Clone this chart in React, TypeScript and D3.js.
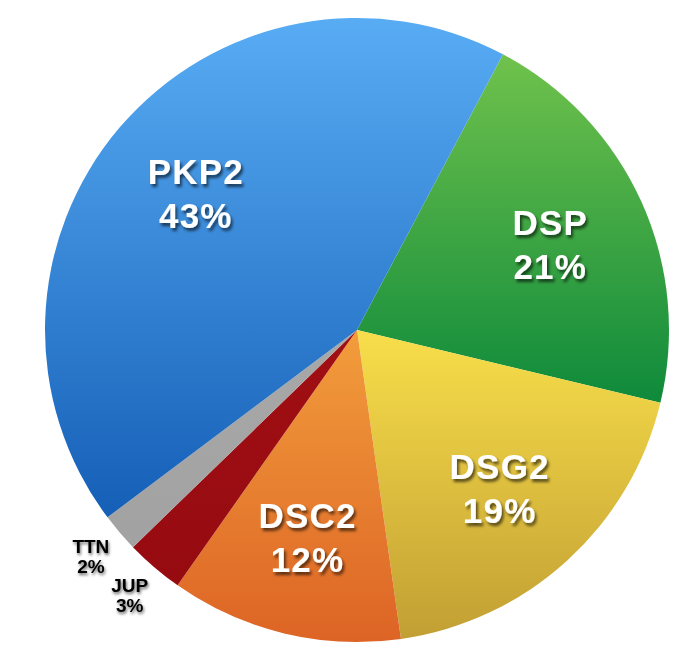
import React from "react";
import * as d3 from "d3";

const categories = ["DSP", "DSG2", "DSC2", "JUP", "TTN", "PKP2"];
const values = [21, 19, 12, 3, 2, 43];
const topColors = ["#70c24c", "#f8de4a", "#f29d3c", "#a00f14", "#a8a8a8", "#58acf4"];
const bottomColors = ["#0e8a3b", "#c29f33", "#dd6425", "#960b10", "#a2a2a2", "#155fb7"];
const insideLabel = [true, true, true, false, false, true];

const W = 694;
const H = 668;
const CX = 357;
const CY = 330;
const R = 312;
const START = (27.9 * Math.PI) / 180;

export default function App() {
  const data = categories.map((c, i) => ({ name: c, value: values[i], i }));
  const pie = d3
    .pie<any>()
    .value((d) => d.value)
    .sort(null)
    .startAngle(START)
    .endAngle(START + 2 * Math.PI);
  const arcs = pie(data);
  const arc = d3.arc<any>().innerRadius(0).outerRadius(R);
  const inLabel = d3.arc<any>().innerRadius(212).outerRadius(212);
  const outLabel = d3.arc<any>().innerRadius(350).outerRadius(350);

  return (
    <svg width={W} height={H} style={{ display: "block", position: "absolute", left: 0, top: 0 }}>
      <defs>
        {arcs.map((a) => (
          <linearGradient key={a.data.name} id={`g${a.data.i}`} x1="0" y1="0" x2="0" y2="1">
            <stop offset="0%" stopColor={topColors[a.data.i]} />
            <stop offset="100%" stopColor={bottomColors[a.data.i]} />
          </linearGradient>
        ))}
        <filter id="shw" x="-20%" y="-20%" width="140%" height="140%">
          <feGaussianBlur in="SourceAlpha" stdDeviation="1.8" />
          <feOffset dx="1.5" dy="2.5" result="b" />
          <feComponentTransfer>
            <feFuncA type="linear" slope="0.6" />
          </feComponentTransfer>
          <feMerge>
            <feMergeNode />
            <feMergeNode in="SourceGraphic" />
          </feMerge>
        </filter>
        <filter id="shs" x="-30%" y="-30%" width="160%" height="160%">
          <feGaussianBlur in="SourceAlpha" stdDeviation="1.4" />
          <feOffset dx="1" dy="2" result="b" />
          <feComponentTransfer>
            <feFuncA type="linear" slope="0.6" />
          </feComponentTransfer>
          <feMerge>
            <feMergeNode />
            <feMergeNode in="SourceGraphic" />
          </feMerge>
        </filter>
      </defs>
      <g transform={`translate(${CX},${CY})`}>
        {arcs.map((a) => (
          <path key={a.data.name} d={arc(a) || ""} fill={`url(#g${a.data.i})`} />
        ))}
        {arcs.map((a) => {
          const isIn = insideLabel[a.data.i];
          const [x, y] = (isIn ? inLabel : outLabel).centroid(a);
          if (isIn) {
            return (
              <g key={"l" + a.data.name} filter="url(#shw)" fill="#ffffff"
                style={{ fontFamily: "'Liberation Sans', Arial, sans-serif", fontWeight: "bold", fontSize: 35, letterSpacing: "1.2px" }}
                textAnchor="middle">
                <text x={x} y={y - 8}>{a.data.name}</text>
                <text x={x} y={y + 36}>{a.data.value + "%"}</text>
              </g>
            );
          }
          return (
            <g key={"l" + a.data.name} filter="url(#shs)" fill="#000000"
              style={{ fontFamily: "'Liberation Sans', Arial, sans-serif", fontWeight: "bold", fontSize: 19 }}
              textAnchor="middle">
              <text x={x} y={y - 4}>{a.data.name}</text>
              <text x={x} y={y + 16}>{a.data.value + "%"}</text>
            </g>
          );
        })}
      </g>
    </svg>
  );
}
